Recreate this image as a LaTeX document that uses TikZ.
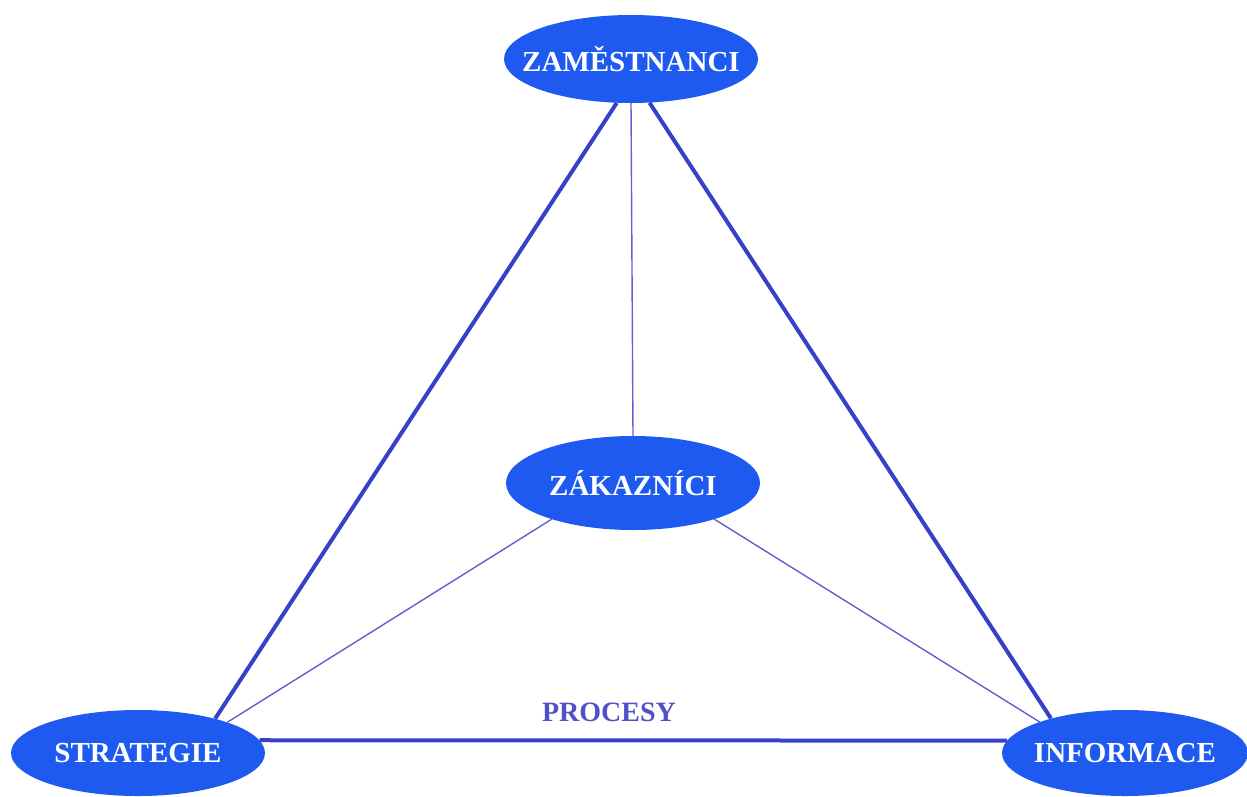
\documentclass[tikz,border=0pt]{standalone}
\usepackage{fontspec}
\setmainfont{Liberation Serif}
\usetikzlibrary{shapes.geometric}
\definecolor{ellfill}{RGB}{30,90,240}
\definecolor{thickline}{RGB}{55,65,200}
\definecolor{thinline}{RGB}{95,95,210}
\definecolor{proclabel}{RGB}{80,80,200}
\newcommand{\ztext}[1]{\makebox[0pt][c]{#1}}
\tikzset{
  ell/.style={ellipse, fill=ellfill, draw=none, inner sep=0pt,
    minimum width=254pt, minimum height=88pt, text=white,
    font=\fontsize{29}{30}\selectfont\bfseries},
  thickconn/.style={draw=thickline, line width=4pt},
  thinconn/.style={draw=thinline, line width=1.4pt},
  lbl/.style={text=proclabel, font=\fontsize{28}{30}\selectfont\bfseries}
}
\begin{document}
\begin{tikzpicture}[x=1pt,y=-1pt]
\useasboundingbox (0,0) rectangle (1247,796);
\node[ell] (zam) at (631,59) {\ztext{ZAMĚSTNANCI}};
\node[ell, minimum height=94pt] (zak) at (633,483) {\ztext{ZÁKAZNÍCI}};
\node[ell, minimum height=86pt] (strat) at (138,753) {\ztext{STRATEGIE}};
\node[ell, minimum height=86pt, minimum width=246pt] (info) at (1125,753) {\ztext{INFORMACE}};
\node[lbl] (proc) at (609,712) {PROCESY};
\draw[thinconn] (zam.south) -- (zak.north);
\draw[thinconn] (zak.204) -- (strat.19);
\draw[thinconn] (zak.336) -- (info.160);
\draw[thickconn] (zam.252) -- (strat.24);
\draw[thickconn] (zam.293) -- (info.155);
\draw[thickconn] (strat.6) -- (info.174);
\end{tikzpicture}
\end{document}
